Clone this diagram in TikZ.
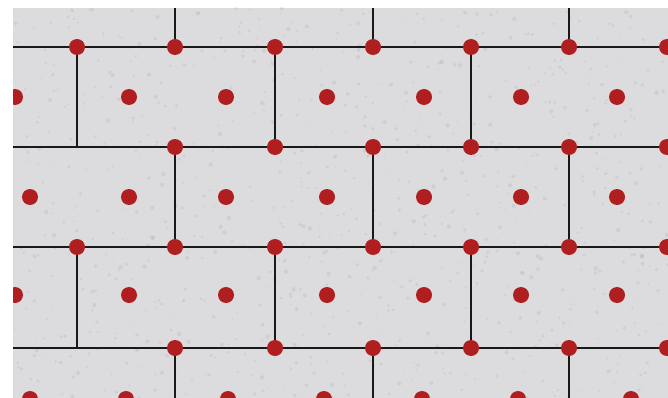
\documentclass[tikz,border=0pt]{standalone}
\usepackage{xcolor}
\usepackage{tikz}
\definecolor{stone}{RGB}{220,220,222}
\definecolor{fleck}{RGB}{150,152,158}
\definecolor{dotred}{RGB}{176,30,32}

\begin{document}
\begin{tikzpicture}[x=1pt, y=-1pt,
    joint/.style={line width=2.4pt, black!90},
    fixing/.style={fill=dotred}]
    \useasboundingbox (0,0) rectangle (668,398);

    % Stone background
    \fill[stone] (13,8) rectangle (668,398);

    \begin{scope}
    \clip (13,8) rectangle (668,398);

    % Grain of the stone
    \pgfmathsetseed{7}
    \foreach \i in {1,...,900}
        \fill[fleck, opacity=0.18] (13+655*rnd,8+390*rnd) circle (0.6+1.6*rnd);

    % Horizontal joints
    \foreach \y in {47,147,247,348}
        \draw[joint] (13,\y) -- (668,\y);

    % Vertical joints (staggered)
    \foreach \x in {175,373,569} {
        \draw[joint] (\x,8) -- (\x,47);
        \draw[joint] (\x,147) -- (\x,247);
        \draw[joint] (\x,348) -- (\x,398);
    }
    \foreach \x in {77,275,471} {
        \draw[joint] (\x,47) -- (\x,147);
        \draw[joint] (\x,247) -- (\x,348);
    }

    % Fixings on the joints
    \foreach \x in {77,175,275,373,471,569,667}
        \fill[fixing] (\x,47) circle (8) (\x,247) circle (8);
    \foreach \x in {175,275,373,471,569,667}
        \fill[fixing] (\x,147) circle (8) (\x,348) circle (8);

    % Fixings in the panels
    \foreach \x in {129,226,327,424,521,617}
        \fill[fixing] (\x,97) circle (8) (\x,197) circle (8) (\x,295) circle (8);
    \foreach \x in {30,126,228,324,422,518,631}
        \fill[fixing] (\x,399) circle (8);
    \fill[fixing] (15,97) circle (8) (15,295) circle (8) (30,197) circle (8);
    \end{scope}
\end{tikzpicture}
\end{document}
